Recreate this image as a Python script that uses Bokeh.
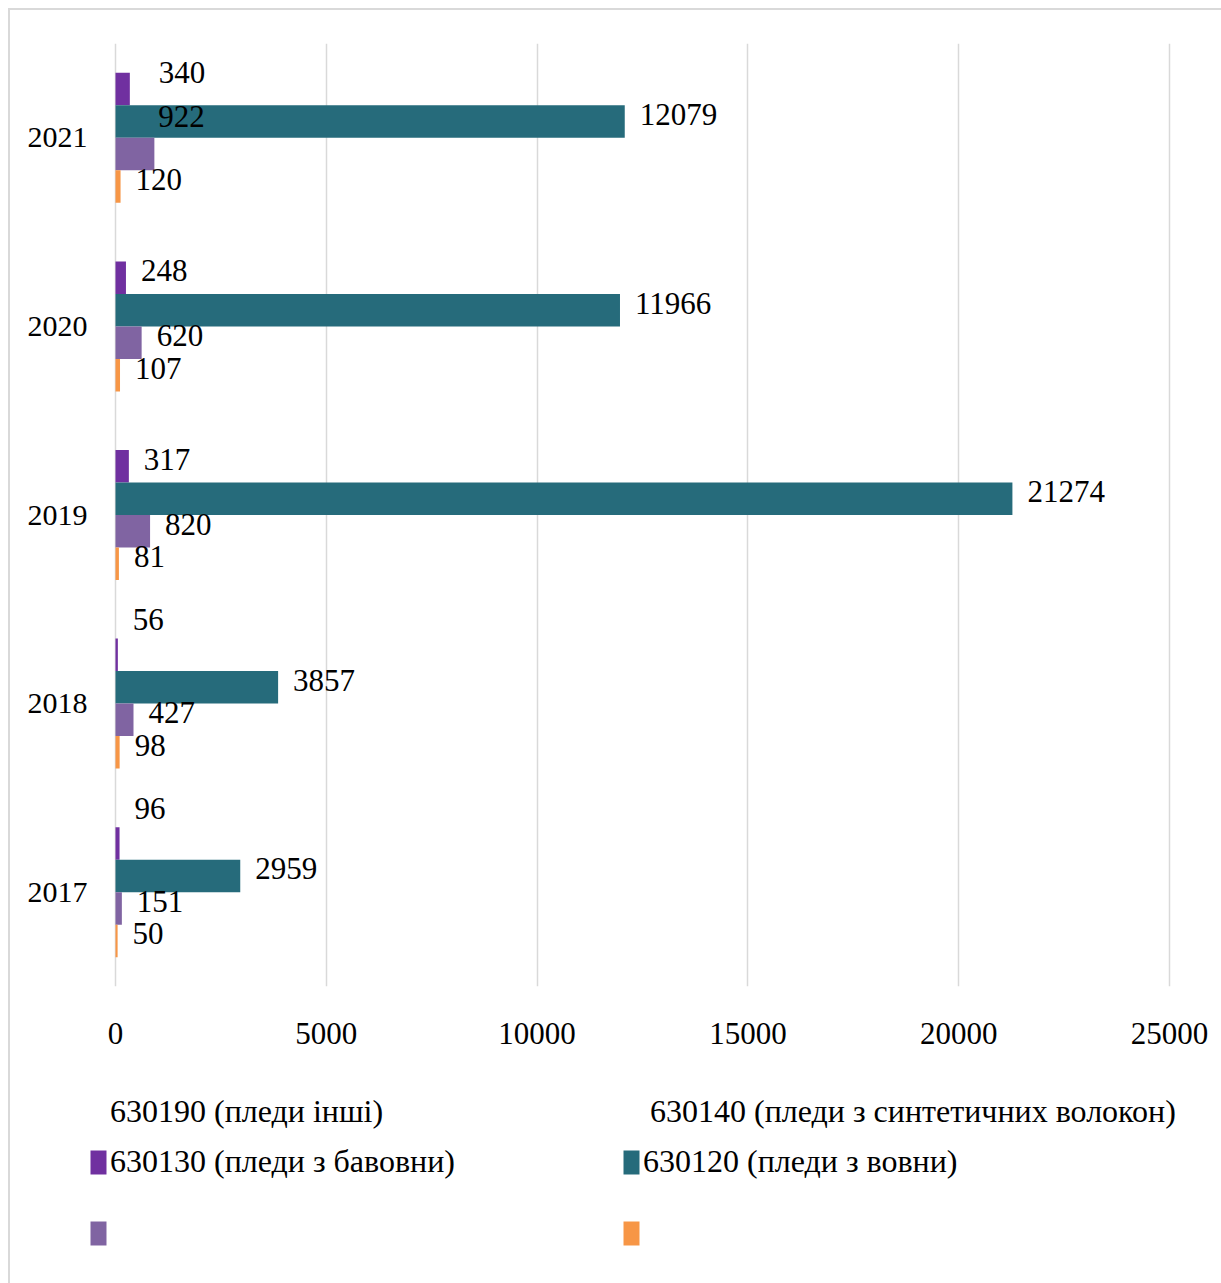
from bokeh.plotting import figure
from bokeh.layouts import column
from bokeh.models import (ColumnDataSource, FactorRange, Range1d, Legend, LegendItem,
                          FixedTicker)
from bokeh.transform import dodge
from bokeh.core.properties import value
from bokeh.embed import file_html
from bokeh.resources import INLINE

# ---- data ----
years = ["2017", "2018", "2019", "2020", "2021"]
legend_texts = ["630190 (пледи інші)", "630130 (пледи з бавовни)",
                "630140 (пледи з синтетичних волокон)", "630120 (пледи з вовни)"]
purple_vals = [96, 56, 317, 248, 340]
teal_vals = [2959, 3857, 21274, 11966, 12079]
lilac_vals = [151, 427, 820, 620, 922]
orange_vals = [50, 98, 81, 107, 120]
x_ticks = [0, 5000, 10000, 15000, 20000, 25000]

# ---- label nudges (pixels), per year, to mimic the reference placement ----
purple_dx = [0, 0, 0, 0, 14]
purple_dy = [-28, -28, 0, 0, -10]
lilac_dx = [0, 0, 0, 0, -11]
lilac_dy = [0, 0, 0, 0, -31]
zero = [0, 0, 0, 0, 0]

FONT = "Liberation Serif"
OFF = 10                      # 8px margin + 2px border
W = 1221 - OFF
H_MAIN = 1060
H_LEG = 213
GRID = "#d9d9d9"
COLORS = {"purple": "#7030A0", "teal": "#266B7B", "lilac": "#8064A2", "orange": "#F79646"}

# plot geometry: value 0 sits 27px right of the frame edge, 25000 sits 52px left of the right edge
AXIS_PX = 1054.0
PX_PER_UNIT = AXIS_PX / x_ticks[-1]
X_START = -27 / PX_PER_UNIT
X_END = x_ticks[-1] + 52 / PX_PER_UNIT

p = figure(width=W, height=H_MAIN, y_range=FactorRange(*years), x_range=Range1d(X_START, X_END),
           output_backend="svg", toolbar_location=None,
           min_border_left=88 - OFF, min_border_right=0, min_border_top=43 - OFF,
           min_border_bottom=H_MAIN - (986 - OFF))
p.outline_line_color = None
p.background_fill_color = "white"
p.border_fill_color = "white"

p.xaxis.ticker = FixedTicker(ticks=x_ticks)
p.xaxis.axis_line_color = None
p.xaxis.major_tick_line_color = None
p.xaxis.major_tick_out = 0
p.xaxis.minor_tick_line_color = None
p.xaxis.major_label_standoff = 36
p.xaxis.major_label_text_font = FONT
p.xaxis.major_label_text_font_size = "31px"
p.xaxis.major_label_text_color = "#000000"

p.yaxis.axis_line_color = None
p.yaxis.major_tick_line_color = None
p.yaxis.major_tick_out = 0
p.yaxis.minor_tick_line_color = None
p.yaxis.major_label_standoff = 1
p.yaxis.major_label_text_font = FONT
p.yaxis.major_label_text_font_size = "30px"
p.yaxis.major_label_text_color = "#000000"

p.xgrid.grid_line_color = GRID
p.xgrid.grid_line_width = 1.5
p.xgrid.ticker = FixedTicker(ticks=x_ticks)
p.ygrid.grid_line_color = None

BH = 0.1723
series = [
    ("purple", purple_vals, 1.5 * BH, purple_dx, purple_dy),
    ("teal", teal_vals, 0.5 * BH, zero, zero),
    ("lilac", lilac_vals, -0.5 * BH, lilac_dx, lilac_dy),
    ("orange", orange_vals, -1.5 * BH, zero, zero),
]

for name, vals, off, dx, dy in series:
    src = ColumnDataSource(dict(
        year=years, val=vals, txt=[str(v) for v in vals],
        dx=[15 + d for d in dx], dy=[-7 + d for d in dy]))
    p.hbar(y=dodge("year", off, range=p.y_range), left=0, right="val", height=BH,
           fill_color=COLORS[name], line_color=None, source=src)
    p.text(x="val", y=dodge("year", off, range=p.y_range), text="txt", source=src,
           x_offset="dx", y_offset="dy", text_font=value(FONT), text_font_size="31px",
           text_color="#000000", text_align="left", text_baseline="middle")

# ---- legend panel (separate figure below the chart) ----
lf = figure(width=W, height=H_LEG, x_range=Range1d(0, 1), y_range=Range1d(0, 1),
            output_backend="svg", toolbar_location=None, min_border=0)
lf.axis.visible = False
lf.grid.visible = False
lf.outline_line_color = None
lf.background_fill_color = "white"
lf.border_fill_color = "white"

# proxy renderers for the legend swatches (kept outside the visible range)
lr = {}
for name in ["purple", "teal", "lilac", "orange"]:
    lr[name] = lf.hbar(y=[5], left=[5], right=[6], height=0.1,
                       fill_color=COLORS[name], line_color=None)
blank = lf.hbar(y=[5], left=[5], right=[6], height=0.1, fill_alpha=0, line_alpha=0)

common = dict(label_text_font=FONT, label_text_font_size="32px", label_text_color="#000000",
              glyph_width=20, glyph_height=30, label_standoff=2, padding=0, margin=0,
              border_line_alpha=0, background_fill_alpha=0)

leg1 = Legend(items=[LegendItem(label=legend_texts[0], renderers=[blank]),
                     LegendItem(label=legend_texts[2], renderers=[blank])],
              orientation="horizontal", location=(0, 153), spacing=0, label_width=518,
              **common)
leg2 = Legend(items=[LegendItem(label=legend_texts[1], renderers=[lr["purple"]]),
                     LegendItem(label=" ", renderers=[lr["lilac"]]),
                     LegendItem(label=legend_texts[3], renderers=[lr["teal"]]),
                     LegendItem(label=" ", renderers=[lr["orange"]])],
              orientation="vertical", ncols=2, location=(0, 35), spacing=38,
              label_width=473, **common)
lf.add_layout(leg1, "center")
lf.add_layout(leg2, "center")

layout = column(p, lf, spacing=0,
                styles={"margin-left": "8px", "margin-top": "8px",
                        "border-left": "2px solid #d9d9d9", "border-top": "2px solid #d9d9d9"})

open("out.html", "w").write(file_html(layout, INLINE))
